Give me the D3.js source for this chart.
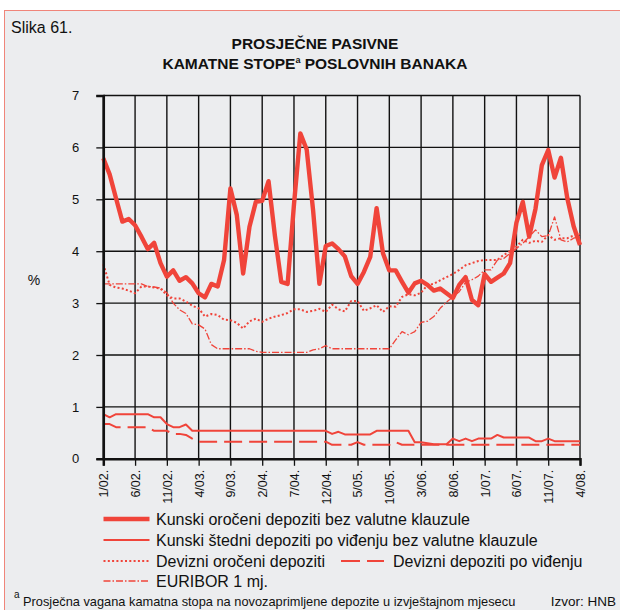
<!DOCTYPE html>
<html>
<head>
<meta charset="utf-8">
<script src="https://cdn.jsdelivr.net/npm/d3@7"></script>
<style>
  html, body { margin: 0; padding: 0; background: #ffffff; }
  svg { display: block; font-family: "Liberation Sans", Arial, sans-serif; }
</style>
</head>
<body>
<svg id="chart" width="620" height="610"></svg>
<script>
// Monthly observations, January 2002 – April 2008 (76 months)
const tickLabels = ["1/02.", "6/02.", "11/02.", "4/03.", "9/03.", "2/04.", "7/04.", "12/04.",
  "5/05.", "10/05.", "3/06.", "8/06.", "1/07.", "6/07.", "11/07.", "4/08."];
const tickStep = 5; // months between labelled ticks
const yTicks = [0, 1, 2, 3, 4, 5, 6, 7];

// Kunski oročeni depoziti bez valutne klauzule
const kunOroceni = [5.79, 5.48, 5.02, 4.57, 4.62, 4.50, 4.28, 4.04, 4.16, 3.77,
  3.51, 3.63, 3.43, 3.50, 3.38, 3.19, 3.11, 3.37, 3.32, 3.83,
  5.21, 4.70, 3.57, 4.47, 4.95, 4.97, 5.35, 4.30, 3.41, 3.37,
  4.90, 6.27, 5.96, 4.80, 3.37, 4.10, 4.15, 4.04, 3.90, 3.52,
  3.37, 3.60, 3.89, 4.83, 3.96, 3.63, 3.63, 3.41, 3.20, 3.38,
  3.43, 3.35, 3.24, 3.28, 3.19, 3.10, 3.35, 3.50, 3.06, 2.96,
  3.56, 3.41, 3.49, 3.57, 3.77, 4.55, 4.95, 4.28, 4.82, 5.66,
  5.95, 5.42, 5.80, 5.02, 4.48, 4.12];

// Kunski štedni depoziti po viđenju bez valutne klauzule
const kunStedni = [0.86, 0.80, 0.86, 0.86, 0.86, 0.86, 0.86, 0.86, 0.80, 0.80,
  0.67, 0.61, 0.61, 0.66, 0.54, 0.54, 0.54, 0.54, 0.54, 0.54,
  0.54, 0.54, 0.54, 0.54, 0.54, 0.54, 0.54, 0.54, 0.54, 0.54,
  0.54, 0.54, 0.54, 0.54, 0.54, 0.54, 0.48, 0.52, 0.47, 0.47,
  0.47, 0.47, 0.47, 0.54, 0.54, 0.54, 0.54, 0.54, 0.54, 0.32,
  0.32, 0.30, 0.28, 0.28, 0.28, 0.39, 0.34, 0.39, 0.34, 0.39,
  0.39, 0.39, 0.46, 0.41, 0.41, 0.41, 0.41, 0.41, 0.34, 0.34,
  0.39, 0.34, 0.34, 0.34, 0.34, 0.34];

// Devizni oročeni depoziti
const devOroceni = [3.75, 3.35, 3.30, 3.28, 3.24, 3.19, 3.32, 3.32, 3.30, 3.28,
  3.15, 3.09, 3.09, 3.03, 2.95, 2.90, 2.74, 2.79, 2.77, 2.68,
  2.67, 2.62, 2.51, 2.65, 2.70, 2.64, 2.70, 2.74, 2.77, 2.81,
  2.88, 2.88, 2.83, 2.85, 2.89, 2.83, 2.97, 2.88, 2.84, 3.04,
  3.04, 2.85, 2.90, 2.96, 2.83, 2.94, 2.93, 3.12, 3.17, 3.15,
  3.20, 3.35, 3.37, 3.44, 3.50, 3.56, 3.64, 3.73, 3.77, 3.81,
  3.83, 3.83, 3.83, 3.93, 4.00, 4.09, 4.22, 4.16, 4.20, 4.18,
  4.31, 4.22, 4.25, 4.25, 4.30, 4.34];

// Devizni depoziti po viđenju
const devVidjenju = [0.67, 0.67, 0.61, 0.61, 0.61, 0.61, 0.61, 0.61, 0.54, 0.54,
  0.54, 0.48, 0.48, 0.46, 0.39, 0.33, 0.33, 0.33, 0.33, 0.33,
  0.33, 0.33, 0.33, 0.33, 0.33, 0.33, 0.33, 0.33, 0.33, 0.33,
  0.33, 0.33, 0.33, 0.33, 0.33, 0.33, 0.27, 0.27, 0.27, 0.27,
  0.32, 0.27, 0.27, 0.27, 0.27, 0.27, 0.32, 0.27, 0.27, 0.27,
  0.27, 0.27, 0.27, 0.27, 0.27, 0.27, 0.27, 0.27, 0.27, 0.27,
  0.27, 0.27, 0.27, 0.27, 0.27, 0.27, 0.27, 0.27, 0.27, 0.27,
  0.27, 0.27, 0.27, 0.27, 0.27, 0.27];

// EURIBOR 1 mj.
const euribor = [3.37, 3.37, 3.37, 3.37, 3.37, 3.37, 3.37, 3.32, 3.31, 3.29,
  3.20, 3.00, 2.87, 2.80, 2.60, 2.58, 2.50, 2.20, 2.12, 2.12,
  2.12, 2.12, 2.12, 2.12, 2.07, 2.05, 2.05, 2.05, 2.05, 2.05,
  2.05, 2.05, 2.05, 2.10, 2.12, 2.18, 2.12, 2.12, 2.12, 2.12,
  2.12, 2.12, 2.12, 2.12, 2.12, 2.12, 2.29, 2.45, 2.39, 2.45,
  2.63, 2.65, 2.74, 2.90, 3.02, 3.12, 3.22, 3.40, 3.45, 3.52,
  3.64, 3.64, 3.83, 3.86, 3.96, 4.05, 4.15, 4.28, 4.41, 4.28,
  4.30, 4.66, 4.22, 4.18, 4.25, 4.28];

const RED = "#f0443a";
const INK = "#111111";

const svg = d3.select("#chart");

// Panel background and frame
svg.append("rect").attr("x", 4.5).attr("y", 10.5).attr("width", 620).attr("height", 610)
  .attr("fill", "#ecedef").attr("stroke", "#f0857a").attr("stroke-width", 1);

const nMonths = kunOroceni.length;
const x = d3.scaleLinear().domain([0, nMonths - 1]).range([103.3, 580]);
const y = d3.scaleLinear().domain([0, 7]).range([458.8, 95.5]);

const tickIdx = tickLabels.map((_, i) => i * tickStep);

// Grid
const grid = svg.append("g");
grid.selectAll("line.h").data(yTicks).join("line")
  .attr("x1", x(0)).attr("x2", x(nMonths - 1))
  .attr("y1", d => y(d)).attr("y2", d => y(d))
  .attr("stroke", INK).attr("stroke-width", 1.4);
grid.selectAll("line.v").data(tickIdx).join("line")
  .attr("x1", d => x(d)).attr("x2", d => x(d))
  .attr("y1", y(0)).attr("y2", y(7))
  .attr("stroke", INK).attr("stroke-width", 1.4);

// Series
const line = d3.line().x((d, i) => x(i)).y(d => y(d));
const series = [
  { data: euribor, width: 1.3, dash: "7 2 1.5 2" },
  { data: devOroceni, width: 2, dash: "2 2.3" },
  { data: devVidjenju, width: 2, dash: "18 7" },
  { data: kunStedni, width: 2, dash: null },
  { data: kunOroceni, width: 4.4, dash: null }
];
svg.append("g").selectAll("path").data(series).join("path")
  .attr("d", s => line(s.data))
  .attr("fill", "none")
  .attr("stroke", RED)
  .attr("stroke-width", s => s.width)
  .attr("stroke-linejoin", "round")
  .attr("stroke-dasharray", s => s.dash);

// Axes
const yAxis = d3.axisLeft(y).tickValues(yTicks).tickSize(7).tickPadding(17).tickFormat(d3.format("d"));
const gy = svg.append("g").attr("transform", `translate(${x(0)},0)`).call(yAxis);
gy.select(".domain").attr("stroke", INK).attr("stroke-width", 2.5);
gy.selectAll(".tick line").attr("stroke", INK).attr("stroke-width", 1.3);
gy.selectAll(".tick text").attr("font-size", 13).attr("fill", INK)
  .attr("font-family", "Liberation Sans, Arial, sans-serif");

const xAxis = d3.axisBottom(x).tickValues(tickIdx).tickSize(7)
  .tickFormat((d, i) => tickLabels[i]);
const gx = svg.append("g").attr("transform", `translate(0,${y(0)})`).call(xAxis);
gx.select(".domain").attr("stroke", INK).attr("stroke-width", 2.5);
gx.selectAll(".tick line").attr("stroke", INK).attr("stroke-width", 1.3);
gx.selectAll(".tick text")
  .attr("font-size", 12.5).attr("fill", INK)
  .attr("font-family", "Liberation Sans, Arial, sans-serif")
  .attr("transform", "rotate(-90)")
  .attr("text-anchor", "end")
  .attr("x", -11).attr("y", 0).attr("dy", "0.35em");

// Axis unit
svg.append("text").attr("x", 34).attr("y", 285).attr("text-anchor", "middle")
  .attr("font-size", 14).attr("fill", INK).text("%");

// Titles
svg.append("text").attr("x", 11).attr("y", 33).attr("font-size", 16).attr("fill", INK).text("Slika 61.");
svg.append("text").attr("x", 315).attr("y", 49).attr("text-anchor", "middle")
  .attr("font-size", 15.5).attr("font-weight", "bold").attr("fill", INK).text("PROSJEČNE PASIVNE");
const t2 = svg.append("text").attr("x", 315).attr("y", 69).attr("text-anchor", "middle")
  .attr("font-size", 15.5).attr("font-weight", "bold").attr("fill", INK);
t2.append("tspan").text("KAMATNE STOPE");
t2.append("tspan").attr("font-size", 9).attr("dy", -6).text("a");
t2.append("tspan").attr("dy", 6).text(" POSLOVNIH BANAKA");

// Legend
const legendItems = [
  { label: "Kunski oročeni depoziti bez valutne klauzule", x0: 103.5, x1: 149.5, tx: 156, cy: 519, width: 4.4, dash: null },
  { label: "Kunski štedni depoziti po viđenju bez valutne klauzule", x0: 103.5, x1: 149.5, tx: 156, cy: 540, width: 2, dash: null },
  { label: "Devizni oročeni depoziti", x0: 103.5, x1: 149.5, tx: 156, cy: 561, width: 2, dash: "2 2.3" },
  { label: "Devizni depoziti po viđenju", x0: 341, x1: 384, tx: 393, cy: 561, width: 2, dash: "19 7" },
  { label: "EURIBOR 1 mj.", x0: 103.5, x1: 149.5, tx: 156, cy: 581, width: 1.3, dash: "7 2 1.5 2" }
];
const lg = svg.append("g").selectAll("g").data(legendItems).join("g");
lg.append("line")
  .attr("x1", d => d.x0).attr("x2", d => d.x1)
  .attr("y1", d => d.cy).attr("y2", d => d.cy)
  .attr("stroke", RED).attr("stroke-width", d => d.width)
  .attr("stroke-dasharray", d => d.dash);
lg.append("text")
  .attr("x", d => d.tx).attr("y", d => d.cy + 5.5)
  .attr("font-size", 16).attr("fill", INK).text(d => d.label);

// Footnote and source
svg.append("text").attr("x", 14).attr("y", 598).attr("font-size", 10).attr("fill", INK).text("a");
svg.append("text").attr("x", 23).attr("y", 606).attr("font-size", 12.8).attr("fill", INK)
  .text("Prosječna vagana kamatna stopa na novozaprimljene depozite u izvještajnom mjesecu");
svg.append("text").attr("x", 616).attr("y", 606).attr("text-anchor", "end")
  .attr("font-size", 13.5).attr("fill", INK).text("Izvor: HNB");
</script>
</body>
</html>
